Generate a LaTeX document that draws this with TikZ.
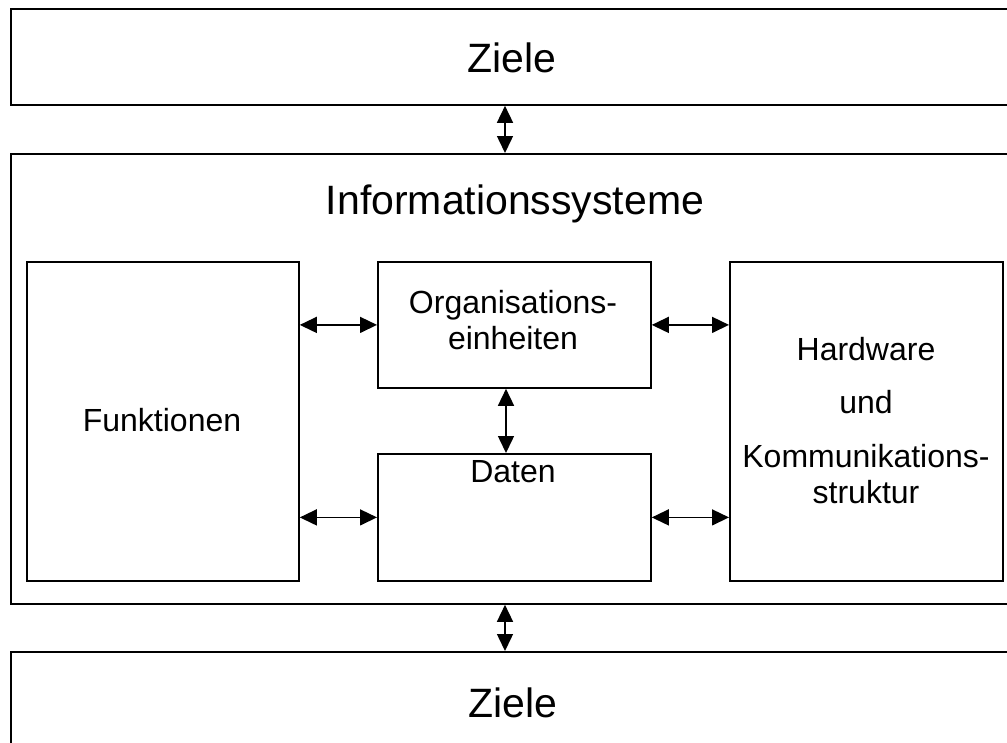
\documentclass[tikz,border=0pt]{standalone}
\usepackage{fontspec}
\setmainfont{Liberation Sans}
\usetikzlibrary{arrows.meta}
\begin{document}
\begin{tikzpicture}[x=1pt,y=-1pt,
  box/.style={draw=black,line width=1.8pt,rectangle,inner sep=0pt,fill=none},
  big/.style={font=\fontsize{41}{41}\selectfont,inner sep=0pt,anchor=base},
  small/.style={font=\fontsize{32}{32}\selectfont,inner sep=0pt,anchor=base},
  arr/.style={line width=1.5pt,{Triangle[length=17pt,width=16pt]}-{Triangle[length=17pt,width=16pt]}}]
\useasboundingbox (0,0) rectangle (1007,742);
\clip (0,0) rectangle (1007,742);
\fill[white] (0,0) rectangle (1007,742);
% outer boxes
\node[box,minimum width=1010pt,minimum height=96pt,anchor=north west] (ziele1) at (10,8) {};
\node[box,minimum width=1010pt,minimum height=450pt,anchor=north west] (info) at (10,153) {};
\node[box,minimum width=1010pt,minimum height=120pt,anchor=north west] (ziele2) at (10,651) {};
% inner boxes
\node[box,minimum width=272pt,minimum height=319pt,anchor=north west] (funk) at (26,261) {};
\node[box,minimum width=273pt,minimum height=126pt,anchor=north west] (org) at (377,261) {};
\node[box,minimum width=273pt,minimum height=127pt,anchor=north west] (daten) at (377,453) {};
\node[box,minimum width=273pt,minimum height=319pt,anchor=north west] (hw) at (729,261) {};
% texts
\node[big] (tz1) at (512,72) {Ziele};
\node[big] (tinfo) at (515,214) {Informationssysteme};
\node[big] (tz2) at (513,717) {Ziele};
\node[small] (tfunk) at (162,431) {Funktionen};
\node[small] (torg1) at (513,313) {Organisations-};
\node[small] (torg2) at (513,349) {einheiten};
\node[small] (tdat) at (513,482) {Daten};
\node[small] (thw1) at (866,360) {Hardware};
\node[small] (thw2) at (866,413) {und};
\node[small] (thw3) at (866,467) {Kommunikations-};
\node[small] (thw4) at (866,503) {struktur};
% connectors
\draw[arr] (ziele1.south -| 505,0) -- (info.north -| 505,0);
\draw[arr] (info.south -| 505,0) -- (ziele2.north -| 505,0);
\draw[arr] (org.south -| 506,0) -- (daten.north -| 506,0);
\draw[arr] (funk.east |- org.center) -- (org.west);
\draw[arr] (funk.east |- daten.center) -- (daten.west);
\draw[arr] (org.east) -- (hw.west |- org.center);
\draw[arr] (daten.east) -- (hw.west |- daten.center);
\end{tikzpicture}
\end{document}
